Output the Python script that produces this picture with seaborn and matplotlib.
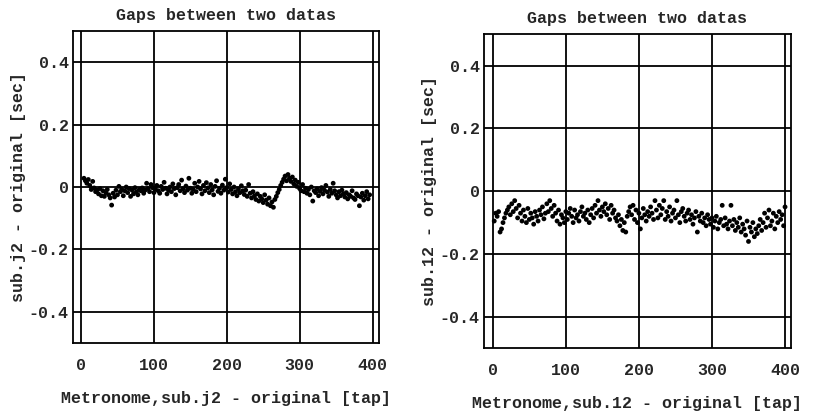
import numpy as np
import pandas as pd
import matplotlib
matplotlib.use("Agg")
import matplotlib.pyplot as plt
import seaborn as sns

# gap values in milliseconds, read every 2nd tap off the scan
gap_j2_ms = [
    28, 20, 12, 24, 5, -8, 18, -3, -15, -10,
    -22, -5, -28, -12, -30, -18, -8, -25, -35, -58,
    -20, -32, -10, -25, 2, -15, -8, -28, -12, 0,
    -18, -5, -30, -10, -22, -2, -15, -25, -8, -12,
    -3, -20, -10, 12, -5, -15, 8, -2, -18, -6,
    5, -12, -20, 2, -8, 15, -4, -22, -10, 0,
    -15, 10, -5, -25, -2, 8, -12, 22, -6, -18,
    3, -10, 28, -4, -20, -8, 12, -15, 0, 18,
    -6, -22, 5, -12, 14, -3, -18, 8, -9, -25,
    2, 20, -14, -4, -20, 6, -10, 25, -2, -16,
    10, -8, -22, 0, -15, -28, -6, -18, 4, -12,
    -24, -10, -30, 8, -20, -35, -15, -28, -40, -22,
    -45, -30, -38, -50, -25, -42, -55, -35, -60, -48,
    -65, -40, -30, -18, -8, 5, 15, 25, 35, 20,
    40, 28, 18, 32, 10, 22, 2, 15, -5, -12,
    8, -15, -4, -20, -8, -25, 0, -45, -12, -18,
    -6, -28, -14, -2, -22, -10, 5, -16, -30, -8,
    -20, 12, -12, -25, -35, -15, -28, -10, -22, -32,
    -18, -38, -25, -30, -12, -35, -40, -22, -28, -60,
    -32, -20, -42, -28, -15, -38, -25,
]

gap_l2_ms = [
    -95, -70, -80, -65, -130, -120, -100, -85, -70, -60,
    -50, -75, -40, -65, -30, -55, -85, -45, -70, -95,
    -60, -80, -100, -55, -90, -70, -85, -105, -65, -80,
    -95, -60, -75, -50, -88, -70, -40, -65, -30, -55,
    -80, -45, -70, -95, -60, -105, -75, -85, -100, -65,
    -90, -70, -55, -80, -100, -60, -85, -75, -95, -65,
    -50, -80, -70, -90, -60, -100, -75, -55, -85, -45,
    -70, -30, -60, -80, -50, -65, -40, -75, -55, -90,
    -45, -70, -60, -85, -95, -75, -110, -90, -125, -100,
    -130, -80, -65, -50, -75, -45, -90, -60, -100, -70,
    -120, -85, -55, -75, -95, -65, -80, -50, -70, -90,
    -30, -60, -85, -45, -75, -55, -30, -90, -65, -80,
    -50, -95, -70, -60, -85, -30, -75, -100, -65, -55,
    -80, -95, -70, -60, -90, -75, -105, -85, -65, -130,
    -80, -95, -70, -100, -85, -110, -75, -90, -105, -85,
    -115, -95, -80, -120, -100, -90, -45, -110, -85, -105,
    -120, -95, -45, -110, -90, -125, -100, -115, -85, -130,
    -105, -120, -140, -95, -160, -115, -130, -100, -145, -120,
    -135, -110, -90, -125, -100, -70, -115, -85, -60, -110,
    -95, -70, -120, -80, -100, -65, -90, -75, -110, -50,
]

tap_j2 = np.arange(4, 4 + 2 * len(gap_j2_ms), 2)
tap_l2 = np.arange(2, 2 + 2 * len(gap_l2_ms), 2)

df_j2 = pd.DataFrame({"tap": tap_j2, "gap": np.array(gap_j2_ms) / 1000})
df_l2 = pd.DataFrame({"tap": tap_l2, "gap": np.array(gap_l2_ms) / 1000})

sns.set_style("white")
plt.rcParams["font.family"] = ["Liberation Mono", "DejaVu Sans Mono"]
plt.rcParams["font.size"] = 12
plt.rcParams["font.weight"] = "bold"

fig = plt.figure(figsize=(8.14, 4.13), dpi=100)
ax1 = fig.add_axes([0.0897, 0.1695, 0.376, 0.7554])
ax2 = fig.add_axes([0.5946, 0.157, 0.377, 0.760])

paneles = [
    (ax1, df_j2, "sub.j2", (-11, 409)),
    (ax2, df_l2, "sub.12", (-12, 408)),
]

for ax, df, nombre, xlim in paneles:
    sns.scatterplot(
        data=df, x="tap", y="gap", ax=ax,
        color="black", s=12, edgecolor="none", linewidth=0,
    )
    ax.set_xlim(*xlim)
    ax.set_ylim(-0.5, 0.5)
    ax.set_xticks([0, 100, 200, 300, 400])
    ax.set_yticks([-0.4, -0.2, 0, 0.2, 0.4])
    ax.set_yticklabels(["-0.4", "-0.2", "0", "0.2", "0.4"])
    ax.grid(True, color="black", linewidth=1.3)
    ax.tick_params(axis="both", length=0, labelsize=12)
    ax.tick_params(axis="x", pad=11)
    ax.tick_params(axis="y", pad=3)
    for sp in ax.spines.values():
        sp.set_visible(True)
        sp.set_color("black")
        sp.set_linewidth(1.3)
    ax.set_title("Gaps between two datas", fontsize=12, pad=8, fontweight="bold")
    ax.set_xlabel(f"Metronome,{nombre} - original [tap]", fontsize=12,
                  labelpad=13, fontweight="bold")
    ax.set_ylabel(f"{nombre} - original [sec]", fontsize=12, labelpad=2,
                  fontweight="bold")

fig.savefig("out.png", dpi=100)
